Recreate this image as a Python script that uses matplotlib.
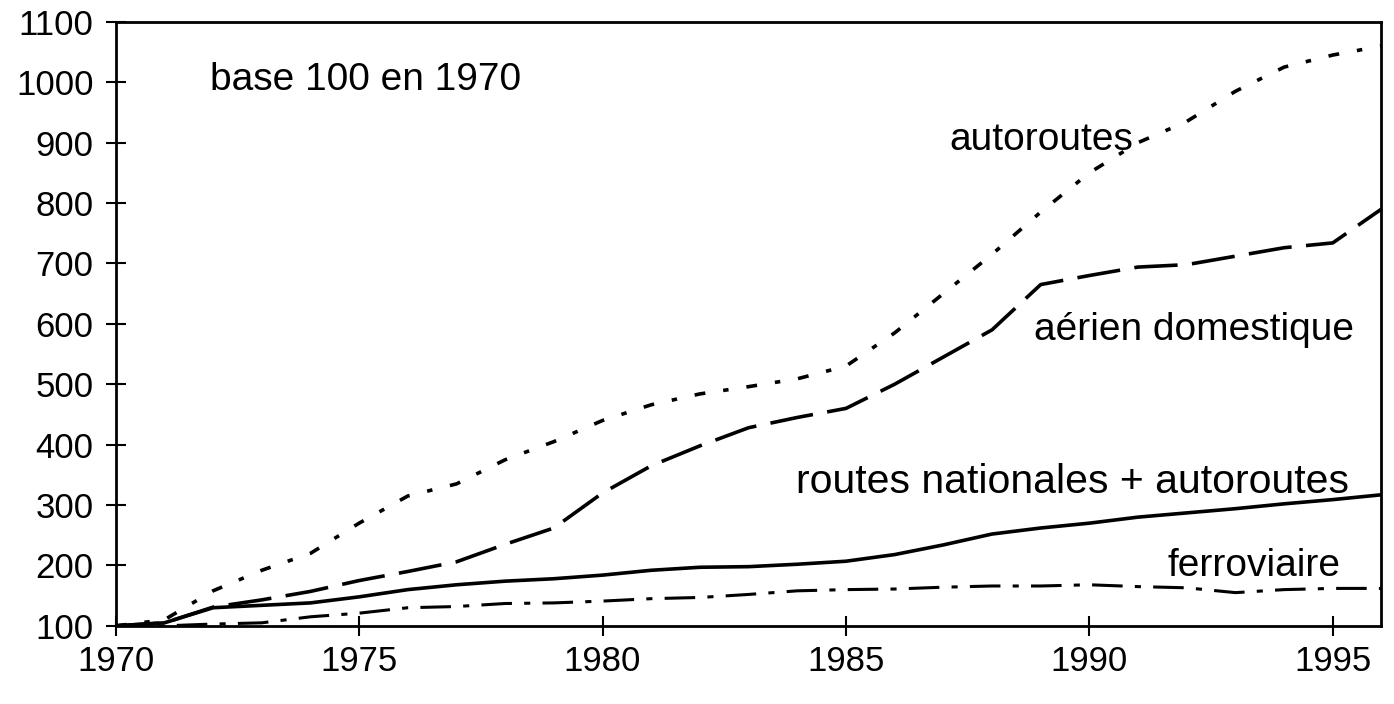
import matplotlib.pyplot as plt

plt.rcParams['font.family'] = ['Liberation Sans', 'DejaVu Sans']

years = list(range(1970, 1997))

# indices base 100 en 1970
autoroutes = [100, 110, 158, 192, 220, 270, 315, 335, 375, 405, 440, 466, 484,
              496, 509, 530, 585, 650, 715, 785, 850, 900, 935, 985, 1025, 1045, 1060]
aerien = [100, 105, 131, 143, 157, 175, 190, 206, 235, 262, 320, 365, 398,
          428, 445, 460, 500, 545, 590, 665, 680, 694, 698, 712, 726, 734, 790]
routes_nat = [100, 105, 130, 134, 138, 148, 160, 168, 174, 178, 184, 192, 197,
              198, 202, 207, 218, 234, 252, 262, 270, 280, 287, 294, 302, 309, 317]
ferroviaire = [100, 100, 103, 105, 115, 121, 130, 132, 137, 138, 141, 145, 147,
               152, 158, 160, 161, 164, 166, 166, 168, 165, 163, 155, 160, 162, 162]

x_ticks = [1970, 1975, 1980, 1985, 1990, 1995]
y_ticks = list(range(100, 1101, 100))

fig = plt.figure(figsize=(13.94, 7.04), dpi=100)
ax = fig.add_axes([0.083, 0.111, 0.908, 0.858])

ax.plot(years, autoroutes, color='black', lw=2.6, linestyle=(0, (3, 5, 1.5, 5)))
ax.plot(years, aerien, color='black', lw=2.6, linestyle=(0, (12, 4)))
ax.plot(years, routes_nat, color='black', lw=2.6, linestyle='-')
ax.plot(years, ferroviaire, color='black', lw=2.2, linestyle=(0, (10, 4, 2, 4)))

ax.set_xlim(1970, 1996)
ax.set_ylim(100, 1100)
ax.set_xticks(x_ticks)
ax.set_yticks(y_ticks)
ax.tick_params(direction='inout', length=14, width=1.5, labelsize=25)
ax.tick_params(axis='y', pad=9)
ax.tick_params(axis='x', pad=7)
for s in ax.spines.values():
    s.set_linewidth(2)

fs = 28
ax.text(1971.93, 1004, 'base 100 en 1970', fontsize=fs, ha='left', va='center')
ax.text(1987.12, 905, 'autoroutes', fontsize=fs, ha='left', va='center')
ax.text(1988.87, 590, 'aérien domestique', fontsize=fs, ha='left', va='center')
ax.text(1983.98, 338, 'routes nationales + autoroutes', fontsize=29.5, ha='left', va='center')
ax.text(1991.6, 199, 'ferroviaire', fontsize=fs, ha='left', va='center')

fig.savefig('out.png', dpi=100)
